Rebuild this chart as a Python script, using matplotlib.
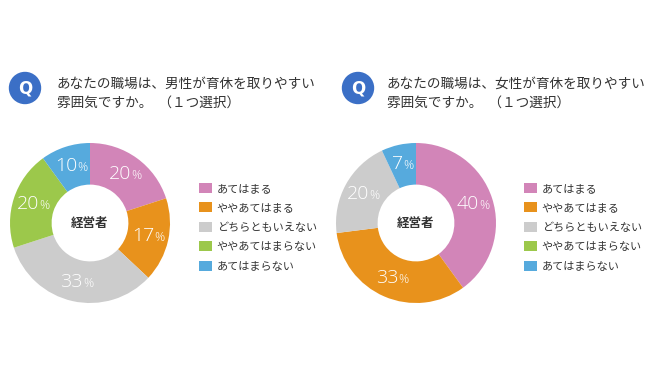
import matplotlib
matplotlib.use("Agg")
import matplotlib.pyplot as plt
from matplotlib.patches import Circle
from matplotlib.offsetbox import TextArea, HPacker, AnnotationBbox
import numpy as np

plt.rcParams['font.family'] = ['Noto Sans CJK JP', 'DejaVu Sans']

# data
categories = ["あてはまる", "ややあてはまる", "どちらともいえない", "ややあてはまらない", "あてはまらない"]
colors = ["#D285B8", "#E8921C", "#CCCCCC", "#9CC84B", "#56AADD"]
male_values = [20, 17, 33, 20, 10]
female_values = [40, 33, 20, 0, 7]
titles = ["あなたの職場は、男性が育休を取りやすい\n雰囲気ですか。  （１つ選択）",
          "あなたの職場は、女性が育休を取りやすい\n雰囲気ですか。  （１つ選択）"]
center_label = "経営者"

W, H = 650, 380
fig = plt.figure(figsize=(6.5, 3.8), dpi=100)
fig.patch.set_facecolor("white")

# overlay axes in pixel coords for title decorations
base = fig.add_axes([0, 0, 1, 1])
base.set_xlim(0, W)
base.set_ylim(H, 0)
base.axis("off")


def donut(cx, cy, r, values, title, qx, tx, legx):
    # Q badge + title
    base.add_patch(Circle((qx, 88), 15.5, color="#3B6FC6", zorder=2))
    base.text(qx, 88.5, "Q", color="white", fontsize=12, fontweight="bold",
              ha="center", va="center", family="DejaVu Sans", zorder=3)
    base.text(tx, 93, title, fontsize=9.8, color="#333333", ha="left", va="center",
              linespacing=1.45)

    ax = fig.add_axes([(cx - r) / W, (H - cy - r) / H, 2 * r / W, 2 * r / H])
    wedges, _ = ax.pie(values, colors=colors, startangle=90, counterclock=False,
                       radius=1.0, wedgeprops=dict(width=0.52, linewidth=0))
    ax.set_xlim(-1, 1)
    ax.set_ylim(-1, 1)
    ax.set_aspect("equal")
    ax.text(0, 0, center_label, ha="center", va="center", fontsize=9,
            fontweight="bold", color="#333333")

    # percentage labels
    total = sum(values)
    start = 0
    for v in values:
        if v > 0:
            mid = (start + v / 2) / total * 2 * np.pi
            rr = 0.75
            x, y = rr * np.sin(mid), rr * np.cos(mid)
            box = HPacker(children=[
                TextArea(str(v), textprops=dict(color="white", fontsize=14,
                                                family="Open Sans", fontweight="light")),
                TextArea("%", textprops=dict(color="white", fontsize=9,
                                             family="Open Sans", fontweight="light"))],
                align="baseline", pad=0, sep=0)
            ab = AnnotationBbox(box, (x, y), frameon=False, box_alignment=(0.5, 0.5))
            ax.add_artist(ab)
        start += v

    fig.legend(wedges, categories, loc="upper left",
               bbox_to_anchor=(legx / W, (H - 183) / H), frameon=False,
               fontsize=8, handlelength=1.15, handleheight=1.0, handletextpad=0.45,
               labelspacing=0.78, borderaxespad=0, borderpad=0,
               labelcolor="#333333")


donut(90, 223, 80, male_values, titles[0], 25, 57, 199)
donut(416, 223, 80, female_values, titles[1], 358, 387, 524)

fig.savefig("out.png", dpi=100, facecolor="white")
